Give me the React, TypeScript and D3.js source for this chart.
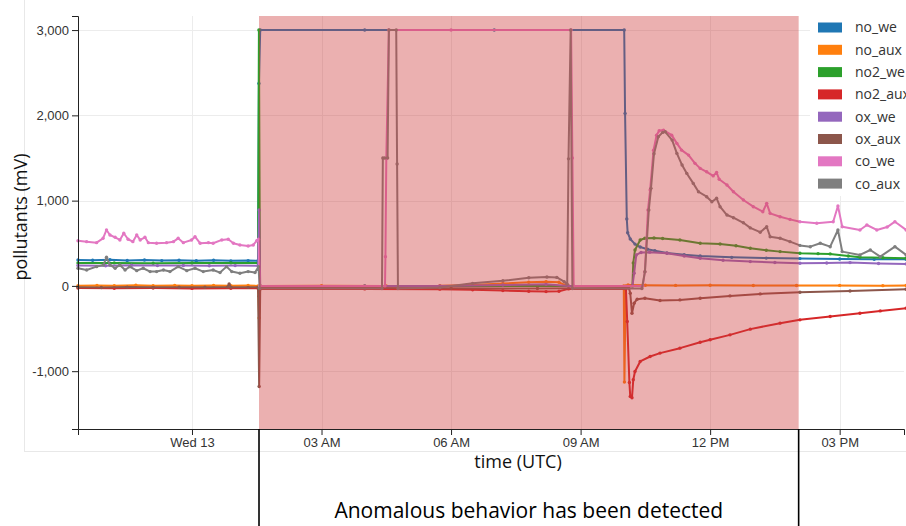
import React, { useRef, useEffect } from 'react';
import * as d3 from 'd3';

// hours are counted from Wed 13 00:00 UTC
const DAY0 = Date.UTC(2022, 6, 13);

const seriesNames = ['no_we', 'no_aux', 'no2_we', 'no2_aux', 'ox_we', 'ox_aux', 'co_we', 'co_aux'];

const noWe: [number, number][] = [
  [-2.64, 304], [-2.3, 300], [-1.9, 306], [-1.5, 298], [-1.1, 303], [-0.7, 297], [-0.3, 301], [0.1, 296],
  [0.5, 300], [0.9, 294], [1.3, 297], [1.53, 296], [1.55, 2373], [1.58, 3000], [4, 3000], [7, 3000],
  [10.01, 3000], [10.03, 2022], [10.07, 785], [10.09, 624], [10.15, 550], [10.26, 490], [10.38, 456],
  [10.55, 430], [10.72, 413], [11.0, 386], [11.4, 365], [11.77, 351], [12.5, 335], [13.3, 326],
  [14.08, 320], [15.0, 315], [15.8, 313], [16.54, 312],
];

const noAux: [number, number][] = [
  [-2.64, 2], [-2.2, 6], [-1.8, 3], [-1.3, 7], [-0.9, 1], [-0.4, 5], [0.0, 2], [0.5, 6], [0.9, 1],
  [1.3, 4], [1.53, 0], [1.555, -375], [1.58, 0], [3, 2], [4.5, 0], [5.74, 2], [6.5, 12], [7.2, 28],
  [7.8, 42], [8.2, 50], [8.5, 42], [8.65, 10], [8.72, 0], [10.0, 0], [10.015, -1128], [10.045, 0],
  [10.1, 10], [10.5, 8], [11.2, 6], [12, 8], [13, 5], [14, 4], [15, 6], [16, 3], [16.54, 5],
];

const no2We: [number, number][] = [
  [-2.64, 268], [-1.8, 270], [-0.9, 266], [0, 268], [0.9, 270], [1.53, 268], [1.55, 3000], [1.575, 0],
  [4, 0], [8, 0], [10.2, 0], [10.22, 270], [10.26, 421], [10.38, 539], [10.49, 558], [10.7, 562],
  [10.9, 556], [11.3, 539], [11.77, 500], [12.23, 492], [12.6, 470], [12.93, 441], [13.3, 418],
  [13.62, 402], [14.08, 383], [14.5, 378], [14.78, 375], [15.2, 350], [15.47, 336], [16, 330], [16.54, 324],
];

const no2Aux: [number, number][] = [
  [-2.64, -25], [-1.8, -28], [-0.9, -26], [0, -29], [0.9, -27], [1.53, -28], [1.555, -120], [1.58, -35],
  [4, -35], [5.74, -38], [6.5, -45], [7.2, -55], [7.8, -62], [8.2, -67], [8.5, -62], [8.72, -35],
  [10.05, -35], [10.08, -418], [10.13, -1132], [10.15, -1296], [10.19, -1311], [10.22, -1100],
  [10.26, -1003], [10.38, -886], [10.61, -828], [10.84, -788], [11.3, -730], [11.77, -660], [12.0, -632],
  [12.46, -574], [12.93, -507], [13.62, -437], [14.08, -398], [14.78, -359], [15.47, -320], [15.94, -293],
  [16.54, -261],
];

const oxWe: [number, number][] = [
  [-2.64, 240], [-2.0, 236], [-1.4, 242], [-0.8, 238], [-0.2, 240], [0.4, 236], [1.0, 238], [1.53, 236],
  [1.555, 890], [1.58, 0], [4, 0], [5.74, 0], [7.2, 10], [8.2, 18], [8.72, 0], [10.2, 0], [10.24, 148],
  [10.29, 363], [10.4, 392], [10.6, 396], [11.0, 383], [11.4, 350], [11.77, 324], [12.3, 300],
  [12.93, 285], [13.5, 274], [14.08, 266], [14.7, 268], [15.24, 273], [15.9, 262], [16.54, 258],
];

const oxAux: [number, number][] = [
  [-2.64, -15], [-2.1, -18], [-1.5, -14], [-0.9, -17], [-0.3, -15], [0.3, -16], [0.82, -14], [0.86, 23],
  [0.9, -15], [1.3, -17], [1.53, -16], [1.555, -1179], [1.58, -25], [4, -25], [6, -28], [8, -30],
  [10.12, -25], [10.15, -86], [10.19, -320], [10.24, -203], [10.31, -156], [10.49, -144], [10.84, -172],
  [11.3, -164], [11.77, -144], [12.46, -117], [13.16, -94], [14.08, -74], [15.24, -59], [16.54, -39],
];

const coWe: [number, number][] = [
  [-2.64, 530], [-2.44, 519], [-2.21, 507], [-2.06, 558], [-1.98, 656], [-1.9, 597], [-1.78, 570],
  [-1.67, 539], [-1.58, 617], [-1.48, 547], [-1.37, 519], [-1.28, 597], [-1.2, 539], [-1.09, 570],
  [-1.01, 507], [-0.82, 500], [-0.59, 507], [-0.43, 519], [-0.32, 558], [-0.2, 507], [-0.01, 539],
  [0.07, 577], [0.19, 500], [0.38, 507], [0.49, 500], [0.69, 539], [0.84, 547], [0.96, 500], [1.11, 480],
  [1.3, 468], [1.42, 480], [1.5, 530], [1.54, 547], [1.57, 0], [4.47, 0], [4.48, 343], [4.5, 1495],
  [4.56, 3000], [6, 3000], [8.78, 3000], [8.81, 1500], [8.84, 0], [10.44, 0], [10.49, 167], [10.56, 890],
  [10.61, 1124], [10.69, 1592], [10.76, 1768], [10.82, 1819], [10.92, 1827], [11.11, 1768], [11.23, 1671],
  [11.34, 1592], [11.5, 1534], [11.65, 1437], [11.77, 1378], [11.92, 1338], [12.07, 1290], [12.15, 1330],
  [12.21, 1250], [12.39, 1183], [12.54, 1104], [12.77, 1007], [13.0, 929], [13.22, 870], [13.31, 968],
  [13.39, 851], [13.62, 811], [13.85, 780], [14.08, 753], [14.47, 734], [14.85, 753], [14.96, 937],
  [15.06, 694], [15.47, 656], [15.63, 714], [15.86, 656], [16.1, 690], [16.28, 753], [16.54, 656],
];

const coAux: [number, number][] = [
  [-2.64, 207], [-2.44, 187], [-2.21, 226], [-2.05, 246], [-1.98, 336], [-1.9, 246], [-1.78, 207],
  [-1.67, 246], [-1.55, 187], [-1.44, 226], [-1.28, 179], [-1.13, 207], [-0.97, 168], [-0.82, 168],
  [-0.66, 187], [-0.51, 168], [-0.32, 226], [-0.12, 179], [0.07, 207], [0.26, 168], [0.49, 187],
  [0.65, 156], [0.8, 226], [0.92, 168], [1.11, 149], [1.3, 168], [1.46, 156], [1.54, 226], [1.57, -30],
  [4.4, -30], [4.42, 1500], [4.46, 1500], [4.53, 1500], [4.56, 3000], [4.73, 3000], [4.75, 1430],
  [4.77, -30], [5.74, -20], [6.5, 30], [7.2, 60], [7.8, 95], [8.22, 105], [8.45, 100], [8.62, 50],
  [8.69, 20], [8.72, 1490], [8.77, 3000], [8.81, -30], [10.42, -30], [10.49, 167], [10.58, 890],
  [10.63, 1144], [10.7, 1550], [10.8, 1750], [10.9, 1800], [10.96, 1807], [11.12, 1710], [11.23, 1554],
  [11.35, 1417], [11.46, 1319], [11.61, 1202], [11.73, 1104], [11.92, 1046], [12.04, 987], [12.15, 1027],
  [12.23, 929], [12.39, 831], [12.54, 800], [12.77, 740], [12.93, 680], [13.16, 630], [13.31, 694],
  [13.39, 577], [13.62, 559], [13.85, 519], [14.08, 475], [14.32, 460], [14.55, 500], [14.78, 460],
  [14.96, 656], [15.06, 402], [15.47, 363], [15.71, 421], [15.94, 343], [16.28, 460], [16.54, 363],
];

const seriesData = [noWe, noAux, no2We, no2Aux, oxWe, oxAux, coWe, coAux];

const yTicks = [-1000, 0, 1000, 2000, 3000];
const xTickHours = [0, 3, 6, 9, 12, 15];
const xTickLabels = ['Wed 13', '03 AM', '06 AM', '09 AM', '12 PM', '03 PM'];
const xDomainHours = [-2.64, 16.49];
const yDomain = [-1678, 3165];
const anomalyHours = [1.552, 14.05];

const toDate = (h: number) => new Date(DAY0 + h * 3600 * 1000);

function App() {
  const svgRef = useRef<SVGSVGElement>(null);
  const width = 906;
  const height = 526;

  useEffect(() => {
    const root = d3.select(svgRef.current);
    root.selectAll('*').remove();

    const margin = { top: 16, right: 2, bottom: 97, left: 78 };
    const x = d3.scaleUtc()
      .domain(xDomainHours.map(toDate))
      .range([margin.left, width - margin.right]);
    const y = d3.scaleLinear()
      .domain(yDomain)
      .range([height - margin.bottom, margin.top]);
    const colors = d3.schemeCategory10;
    const bottom = height - margin.bottom;

    // faint outer frame of the screenshot
    root.append('line').attr('x1', 24.5).attr('x2', 24.5).attr('y1', 0).attr('y2', 451)
      .attr('stroke', '#e8e8e8');
    root.append('line').attr('x1', 24).attr('x2', width).attr('y1', 451.5).attr('y2', 451.5)
      .attr('stroke', '#e8e8e8');

    // grid
    const grid = root.append('g').attr('stroke', '#ececec').attr('stroke-width', 1);
    yTicks.forEach(v => {
      grid.append('line')
        .attr('x1', margin.left).attr('x2', width - margin.right)
        .attr('y1', Math.round(y(v)) + 0.5).attr('y2', Math.round(y(v)) + 0.5);
    });
    xTickHours.forEach(h => {
      grid.append('line')
        .attr('x1', Math.round(x(toDate(h))) + 0.5).attr('x2', Math.round(x(toDate(h))) + 0.5)
        .attr('y1', margin.top).attr('y2', bottom);
    });

    // series
    const line = d3.line<[number, number]>()
      .x(d => x(toDate(d[0])))
      .y(d => y(d[1]));

    seriesData.forEach((pts, i) => {
      const g = root.append('g');
      g.append('path')
        .datum(pts)
        .attr('d', line)
        .attr('fill', 'none')
        .attr('stroke', colors[i])
        .attr('stroke-width', 2)
        .attr('stroke-linejoin', 'round');
      g.selectAll('circle')
        .data(pts)
        .enter()
        .append('circle')
        .attr('cx', d => x(toDate(d[0])))
        .attr('cy', d => y(d[1]))
        .attr('r', 1.7)
        .attr('fill', colors[i]);
    });

    // anomaly highlight
    const ax0 = x(toDate(anomalyHours[0]));
    const ax1 = x(toDate(anomalyHours[1]));
    root.append('rect')
      .attr('x', ax0).attr('y', margin.top)
      .attr('width', ax1 - ax0).attr('height', bottom - margin.top)
      .attr('fill', 'rgb(205,57,57)')
      .attr('fill-opacity', 0.4);

    // axes
    const xAxis = root.append('g')
      .attr('transform', `translate(0,${bottom})`)
      .call(d3.axisBottom(x)
        .tickValues(xTickHours.map(toDate))
        .tickFormat((_, i) => xTickLabels[i]));
    const yAxis = root.append('g')
      .attr('transform', `translate(${margin.left},0)`)
      .call(d3.axisLeft(y)
        .tickValues(yTicks)
        .tickFormat(d => d3.format(',')(d as number).replace('\u2212', '-')));
    [xAxis, yAxis].forEach(a => {
      a.attr('color', '#222');
      a.selectAll('text')
        .attr('fill', '#333')
        .style('font-family', '"Liberation Sans", Arial, sans-serif')
        .style('font-size', '13px');
    });

    // legend
    const legend = root.append('g');
    legend.append('rect')
      .attr('x', 810).attr('y', 10).attr('width', width - 810).attr('height', 186)
      .attr('fill', '#fff');
    seriesNames.forEach((name, i) => {
      const cy = 27.5 + i * 22.3;
      legend.append('rect')
        .attr('x', 818).attr('y', cy - 5)
        .attr('width', 24).attr('height', 10)
        .attr('fill', colors[i]);
      legend.append('text')
        .attr('x', 855).attr('y', cy)
        .attr('dy', '0.35em')
        .style('font-family', '"Open Sans", sans-serif')
        .style('font-size', '14px')
        .attr('fill', '#333')
        .text(name);
    });

    // axis titles
    root.append('text')
      .attr('transform', `translate(27,217) rotate(-90)`)
      .attr('text-anchor', 'middle')
      .style('font-family', '"Open Sans", sans-serif')
      .style('font-size', '18px')
      .attr('fill', '#111')
      .text('pollutants (mV)');
    root.append('text')
      .attr('x', 518).attr('y', 468)
      .attr('text-anchor', 'middle')
      .style('font-family', '"Open Sans", sans-serif')
      .style('font-size', '18px')
      .attr('fill', '#111')
      .text('time (UTC)');

    // annotation bracket
    [ax0, ax1].forEach(xx => {
      root.append('line')
        .attr('x1', xx).attr('x2', xx)
        .attr('y1', bottom).attr('y2', height)
        .attr('stroke', '#000')
        .attr('stroke-width', 1.6);
    });
    root.append('text')
      .attr('x', (ax0 + ax1) / 2).attr('y', 518)
      .attr('text-anchor', 'middle')
      .style('font-family', '"Open Sans", sans-serif')
      .style('font-size', '21px')
      .attr('fill', '#000')
      .text('Anomalous behavior has been detected');
  }, []);

  return (
    <div style={{ position: 'absolute', left: 0, top: 0 }}>
      <svg ref={svgRef} width={width} height={height} style={{ display: 'block' }}></svg>
    </div>
  );
}

export default App;
